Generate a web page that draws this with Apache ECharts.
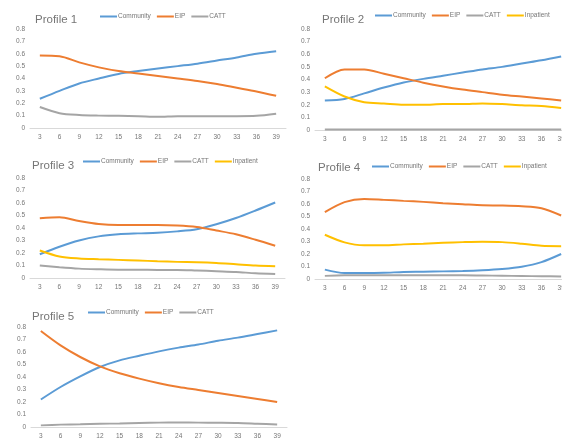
<!DOCTYPE html>
<html><head><meta charset="utf-8">
<script src="https://cdn.jsdelivr.net/npm/echarts@6/dist/echarts.min.js"></script>
<style>html,body{margin:0;padding:0;background:#fff}#c{width:562px;height:439px}</style>
</head><body><div id="c"></div>
<script>
const months = ['3','6','9','12','15','18','21','24','27','30','33','36','39'];
const yTicks = [0, 0.1, 0.2, 0.3, 0.4, 0.5, 0.6, 0.7, 0.8];

const p1Community = [0.236,0.30,0.36,0.40,0.437,0.46,0.48,0.50,0.52,0.545,0.57,0.60,0.62];
const p1EIP       = [0.585,0.58,0.53,0.49,0.46,0.44,0.42,0.40,0.38,0.355,0.325,0.295,0.26];
const p1CATT      = [0.17,0.12,0.105,0.10,0.098,0.095,0.09,0.095,0.095,0.095,0.095,0.098,0.115];

const p2Community = [0.233,0.246,0.29,0.336,0.376,0.405,0.43,0.455,0.48,0.50,0.527,0.553,0.583];
const p2EIP       = [0.41,0.48,0.48,0.445,0.41,0.375,0.345,0.32,0.30,0.28,0.265,0.25,0.233];
const p2CATT      = [0.004,0.004,0.004,0.004,0.004,0.004,0.004,0.004,0.004,0.004,0.004,0.004,0.004];
const p2Inpatient = [0.345,0.265,0.22,0.21,0.20,0.20,0.205,0.205,0.21,0.205,0.196,0.19,0.175];

const p3Community = [0.19,0.25,0.30,0.333,0.35,0.357,0.362,0.373,0.39,0.43,0.48,0.54,0.604];
const p3EIP       = [0.478,0.486,0.456,0.432,0.424,0.424,0.424,0.42,0.408,0.38,0.35,0.306,0.258];
const p3CATT      = [0.10,0.086,0.075,0.07,0.067,0.067,0.065,0.065,0.06,0.054,0.048,0.038,0.032];
const p3Inpatient = [0.22,0.172,0.156,0.15,0.145,0.14,0.134,0.129,0.126,0.12,0.11,0.10,0.094];

const p4Community = [0.075,0.048,0.048,0.05,0.056,0.058,0.061,0.064,0.07,0.08,0.098,0.135,0.20];
const p4EIP       = [0.535,0.615,0.64,0.633,0.625,0.617,0.606,0.598,0.59,0.588,0.582,0.566,0.508];
const p4CATT      = [0.025,0.03,0.03,0.03,0.03,0.03,0.03,0.03,0.028,0.026,0.024,0.022,0.02];
const p4Inpatient = [0.354,0.293,0.27,0.27,0.277,0.282,0.29,0.295,0.298,0.295,0.282,0.266,0.263];

const p5Community = [0.22,0.32,0.405,0.48,0.533,0.57,0.605,0.635,0.66,0.69,0.715,0.744,0.773];
const p5EIP       = [0.768,0.653,0.56,0.485,0.43,0.387,0.35,0.32,0.296,0.272,0.248,0.224,0.20];
const p5CATT      = [0.013,0.019,0.022,0.026,0.028,0.032,0.035,0.036,0.035,0.034,0.032,0.026,0.02];

const colors = {Community:'#5B9BD5', EIP:'#ED7D31', CATT:'#A5A5A5', Inpatient:'#FFC000'};

const panels = [
  {title:'Profile 1', tx:30, ty:9, lx:100, ly:13, grid:{left:30, top:29, width:256, height:99},
   series:{Community:p1Community, EIP:p1EIP, CATT:p1CATT}},
  {title:'Profile 2', tx:317, ty:9, lx:375, ly:12, grid:{left:315, top:29, width:256, height:101},
   series:{Community:p2Community, EIP:p2EIP, CATT:p2CATT, Inpatient:p2Inpatient}},
  {title:'Profile 3', tx:27, ty:155, lx:83, ly:158, grid:{left:30, top:178, width:255, height:100},
   series:{Community:p3Community, EIP:p3EIP, CATT:p3CATT, Inpatient:p3Inpatient}},
  {title:'Profile 4', tx:313, ty:157, lx:372, ly:163, grid:{left:315, top:179, width:256, height:100},
   series:{Community:p4Community, EIP:p4EIP, CATT:p4CATT, Inpatient:p4Inpatient}},
  {title:'Profile 5', tx:27, ty:306, lx:88, ly:309, grid:{left:31, top:327, width:256, height:100},
   series:{Community:p5Community, EIP:p5EIP, CATT:p5CATT}}
];

const option = {animation:false, title:[], legend:[], grid:[], xAxis:[], yAxis:[], series:[]};
panels.forEach((p, i) => {
  option.title.push({text:p.title, left:p.tx, top:p.ty,
    textStyle:{fontFamily:'Liberation Sans', fontSize:11.5, fontWeight:'normal', color:'#767676'}});
  const names = Object.keys(p.series);
  option.legend.push({data:names, left:p.lx, top:p.ly, icon:'rect', itemWidth:17, itemHeight:2,
    itemGap:6, padding:0,
    textStyle:{fontFamily:'Liberation Sans', fontSize:6.5, color:'#767676', padding:[0,0,0,-4]}});
  option.grid.push(Object.assign({containLabel:false, outerBoundsMode:'none'}, p.grid));
  option.xAxis.push({type:'category', gridIndex:i, data:months, boundaryGap:true,
    axisLine:{lineStyle:{color:'#d9d9d9', width:1}}, axisTick:{show:false},
    axisLabel:{fontFamily:'Liberation Sans', fontSize:6.5, color:'#767676', margin:6, interval:0}});
  option.yAxis.push({type:'value', gridIndex:i, min:yTicks[0], max:yTicks[yTicks.length-1], interval:0.1,
    axisLine:{show:false}, axisTick:{show:false}, splitLine:{show:false},
    axisLabel:{fontFamily:'Liberation Sans', fontSize:6.5, color:'#767676', margin:5,
      formatter:v => v === 0 ? '0' : v.toFixed(1)}});
  names.forEach(n => {
    option.series.push({name:n, type:'line', xAxisIndex:i, yAxisIndex:i, data:p.series[n],
      showSymbol:false, symbol:'none', smooth:0.3, color:colors[n],
      lineStyle:{width:2, color:colors[n]}});
  });
});
const chart = echarts.init(document.getElementById('c'), null, {renderer:'canvas'});
chart.setOption(option);
</script></body></html>
